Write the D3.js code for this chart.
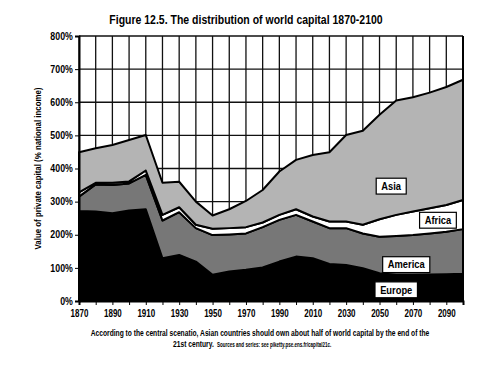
<!DOCTYPE html>
<html>
<head>
<meta charset="utf-8">
<script src="https://cdn.jsdelivr.net/npm/d3@7"></script>
<style>
	body { margin: 0; background: #fff; }
	text { font-family: "Liberation Sans", Arial, sans-serif; font-weight: bold; fill: #000; }
</style>
</head>
<body>
<script>
(function () {
	"use strict";

	var years = [1870, 1880, 1890, 1900, 1910, 1920, 1930, 1940, 1950, 1960, 1970, 1980,
		1990, 2000, 2010, 2020, 2030, 2040, 2050, 2060, 2070, 2080, 2090, 2100];
	var regions = ["Europe", "America", "Africa", "Asia"];
	var europe = [272, 270, 265, 273, 277, 129, 139, 119, 79, 89, 94, 101, 119, 134, 129, 112, 109, 99, 84, 79, 79, 80, 81, 82];
	var america = [43, 82, 85, 82, 104, 114, 129, 101, 120, 112, 110, 122, 126, 126, 111, 108, 111, 105, 110, 117, 120, 124, 128, 135];
	var africa = [13, 5, 7, 6, 13, 17, 15, 10, 19, 19, 19, 14, 15, 17, 15, 20, 20, 26, 53, 64, 71, 76, 81, 88];
	var asia = [121, 104, 114, 125, 107, 97, 77, 70, 40, 57, 79, 98, 131, 149, 186, 209, 261, 284, 315, 345, 345, 349, 356, 363];
	var yTicks = [0, 100, 200, 300, 400, 500, 600, 700, 800];
	var xLabels = [1870, 1890, 1910, 1930, 1950, 1970, 1990, 2010, 2030, 2050, 2070, 2090];

	var w = 500, h = 375;
	var m = { top: 36, right: 37, bottom: 74, left: 79 };

	var rows = years.map(function (yr, i) {
		return { year: yr, Europe: europe[i], America: america[i], Africa: africa[i], Asia: asia[i] };
	});
	var fills = { Europe: "#000", America: "#777", Africa: "#fff", Asia: "#b4b4b4" };

	var svg = d3.select("body").append("svg")
		.attr("width", w)
		.attr("height", h);

	// text in the original is a narrow bold face, so squeeze it horizontally
	function narrowText(x, y, str, size, k, anchor) {
		return svg.append("text")
			.attr("transform", "translate(" + x + "," + y + ") scale(" + k + ",1)")
			.attr("text-anchor", anchor || "middle")
			.attr("font-size", size)
			.text(str);
	}

	var xScale = d3.scaleLinear()
		.domain([1870, 2100])
		.range([m.left, w - m.right]);

	var yScale = d3.scaleLinear()
		.domain([0, 800])
		.range([h - m.bottom, m.top]);

	// grid
	var gridYears = d3.range(1870, 2101, 10);
	svg.append("g").selectAll("line").data(gridYears).enter().append("line")
		.attr("x1", (d) => xScale(d)).attr("x2", (d) => xScale(d))
		.attr("y1", yScale(0)).attr("y2", yScale(800))
		.attr("stroke", "#111").attr("stroke-width", 1.3);
	svg.append("g").selectAll("line").data(yTicks).enter().append("line")
		.attr("x1", xScale(1870)).attr("x2", xScale(2100))
		.attr("y1", (d) => yScale(d)).attr("y2", (d) => yScale(d))
		.attr("stroke", "#111").attr("stroke-width", 1.3);

	// stacked areas
	var stack = d3.stack().keys(regions);
	var series = stack(rows);
	var area = d3.area()
		.x((d) => xScale(d.data.year))
		.y0((d) => yScale(d[0]))
		.y1((d) => yScale(d[1]));

	svg.append("g").selectAll("path").data(series).enter().append("path")
		.attr("d", area)
		.attr("fill", (d) => fills[d.key])
		.attr("stroke", "#000")
		.attr("stroke-width", 2)
		.attr("stroke-linejoin", "round");

	// axes
	var xAxis = d3.axisBottom(xScale)
		.tickValues(gridYears)
		.tickSize(4)
		.tickFormat((d) => xLabels.indexOf(d) >= 0 ? d : "");
	var gx = svg.append("g")
		.attr("transform", "translate(0," + yScale(0) + ")")
		.call(xAxis);
	gx.select(".domain").attr("stroke-width", 2);
	gx.selectAll("text")
		.attr("font-size", 10)
		.attr("font-family", null)
		.attr("dy", "0.9em")
		.attr("transform", "scale(0.8,1)");

	var yAxis = d3.axisLeft(yScale)
		.tickValues(yTicks)
		.tickSize(4)
		.tickFormat((d) => d + "%");
	var gy = svg.append("g")
		.attr("transform", "translate(" + xScale(1870) + ",0)")
		.call(yAxis);
	gy.select(".domain").attr("stroke-width", 2);
	gy.selectAll("text")
		.attr("font-size", 10)
		.attr("x", -7)
		.attr("transform", "scale(0.88,1)");
	svg.selectAll(".tick text").style("font-family", "Liberation Sans, Arial, sans-serif").style("font-weight", "bold");

	svg.append("line")
		.attr("x1", xScale(2100)).attr("x2", xScale(2100))
		.attr("y1", yScale(0)).attr("y2", yScale(800))
		.attr("stroke", "#000").attr("stroke-width", 2);

	// region labels
	var labelSpots = [
		{ name: "Asia", year: 2057, value: 347 },
		{ name: "Africa", year: 2085, value: 244 },
		{ name: "America", year: 2066, value: 110 },
		{ name: "Europe", year: 2060, value: 34 }
	];
	labelSpots.forEach(function (l) {
		var g = svg.append("g")
			.attr("transform", "translate(" + xScale(l.year) + "," + yScale(l.value) + ")");
		var r = g.append("rect");
		var t = g.append("text")
			.attr("text-anchor", "middle")
			.attr("dy", "0.35em")
			.attr("font-size", 11)
			.attr("transform", "scale(0.85,1)")
			.text(l.name);
		var bb = t.node().getBBox();
		var bw = bb.width * 0.85;
		r.attr("x", -bw / 2 - 5).attr("y", bb.y - 2)
			.attr("width", bw + 10).attr("height", bb.height + 4)
			.attr("fill", "#fff").attr("stroke", "#000").attr("stroke-width", 1.2);
	});

	// titles
	narrowText(246, 24, "Figure 12.5. The distribution of world capital 1870-2100", 12.5, 0.84);

	svg.append("text")
		.attr("transform", "translate(41," + yScale(400) + ") rotate(-90) scale(0.83,1)")
		.attr("text-anchor", "middle")
		.attr("font-size", 9.5)
		.text("Value of private capital (% national income)");

	narrowText(260, 336, "According to the central scenatio, Asian countries should own about half of world capital by the end of the", 9.3, 0.72);

	narrowText(173, 347, "21st century.", 9.3, 0.72, "start");
	narrowText(217, 347, "Sources and series: see piketty.pse.ens.fr/capital21c.", 6.3, 0.72, "start");
})();
</script>
</body>
</html>
